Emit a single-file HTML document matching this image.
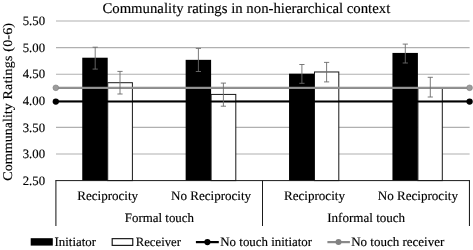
<!DOCTYPE html><html><head><meta charset="utf-8"><style>html,body{margin:0;padding:0;background:#fff}svg{display:block}text{font-family:"Liberation Serif",serif;fill:#000;stroke:#000;stroke-width:0.15px;text-rendering:geometricPrecision}</style></head><body><div style="will-change:transform;width:473px;height:250px;overflow:hidden;background:#fff">
<svg width="473" height="250" viewBox="0 0 473 250">
<rect width="473" height="250" fill="#fff"/>
<line x1="56.0" x2="469.6" y1="21.00" y2="21.00" stroke="#b0b0b0" stroke-width="1.15"/>
<line x1="56.0" x2="469.6" y1="47.60" y2="47.60" stroke="#b0b0b0" stroke-width="1.15"/>
<line x1="56.0" x2="469.6" y1="74.20" y2="74.20" stroke="#b0b0b0" stroke-width="1.15"/>
<line x1="56.0" x2="469.6" y1="100.80" y2="100.80" stroke="#b0b0b0" stroke-width="1.15"/>
<line x1="56.0" x2="469.6" y1="127.40" y2="127.40" stroke="#b0b0b0" stroke-width="1.15"/>
<line x1="56.0" x2="469.6" y1="154.00" y2="154.00" stroke="#b0b0b0" stroke-width="1.15"/>
<rect x="82.25" y="57.71" width="25.45" height="122.89" fill="#000"/>
<rect x="107.70" y="82.71" width="24.70" height="97.89" fill="#fff" stroke="#181818" stroke-width="1"/>
<rect x="185.65" y="59.84" width="25.45" height="120.76" fill="#000"/>
<rect x="211.10" y="94.42" width="24.70" height="86.18" fill="#fff" stroke="#181818" stroke-width="1"/>
<rect x="289.05" y="73.67" width="25.45" height="106.93" fill="#000"/>
<rect x="314.50" y="71.97" width="24.30" height="108.63" fill="#fff" stroke="#181818" stroke-width="1"/>
<rect x="392.45" y="52.92" width="25.45" height="127.68" fill="#000"/>
<rect x="417.90" y="87.50" width="24.40" height="93.10" fill="#fff" stroke="#181818" stroke-width="1"/>
<line x1="56.0" x2="469.6" y1="87.80" y2="87.80" stroke="#878787" stroke-width="2.15"/>
<line x1="56.0" x2="469.6" y1="87.80" y2="87.80" stroke="#9a9a9a" stroke-width="0.9"/>
<line x1="56.0" x2="469.6" y1="101.50" y2="101.50" stroke="#000" stroke-width="2.15"/>
<circle cx="55.8" cy="87.80" r="2.85" fill="#9c9c9c" stroke="#808080" stroke-width="0.6"/>
<circle cx="55.8" cy="101.60" r="3.15" fill="#000"/>
<circle cx="469.6" cy="87.80" r="2.85" fill="#9c9c9c" stroke="#808080" stroke-width="0.6"/>
<circle cx="469.6" cy="101.60" r="3.15" fill="#000"/>
<path d="M95.20 47.20V69.10M92.60 47.20h5.2M92.60 69.10h5.2" stroke="#6c6c6c" stroke-width="0.9" fill="none"/>
<path d="M120.00 71.40V94.00M117.40 71.40h5.2M117.40 94.00h5.2" stroke="#6c6c6c" stroke-width="0.9" fill="none"/>
<path d="M198.40 48.40V71.50M195.80 48.40h5.2M195.80 71.50h5.2" stroke="#6c6c6c" stroke-width="0.9" fill="none"/>
<path d="M223.40 83.10V106.20M220.80 83.10h5.2M220.80 106.20h5.2" stroke="#6c6c6c" stroke-width="0.9" fill="none"/>
<path d="M301.90 64.50V83.30M299.30 64.50h5.2M299.30 83.30h5.2" stroke="#6c6c6c" stroke-width="0.9" fill="none"/>
<path d="M326.60 62.40V81.90M324.00 62.40h5.2M324.00 81.90h5.2" stroke="#6c6c6c" stroke-width="0.9" fill="none"/>
<path d="M405.30 44.10V63.00M402.70 44.10h5.2M402.70 63.00h5.2" stroke="#6c6c6c" stroke-width="0.9" fill="none"/>
<path d="M430.30 77.30V97.00M427.70 77.30h5.2M427.70 97.00h5.2" stroke="#6c6c6c" stroke-width="0.9" fill="none"/>
<line x1="55.4" x2="470.0" y1="180.6" y2="180.6" stroke="#1a1a1a" stroke-width="1.0"/>
<line x1="55.90" x2="55.90" y1="180.6" y2="226.0" stroke="#1a1a1a" stroke-width="1.05"/>
<line x1="262.50" x2="262.50" y1="180.6" y2="226.0" stroke="#1a1a1a" stroke-width="1.05"/>
<line x1="469.45" x2="469.45" y1="180.6" y2="226.0" stroke="#1a1a1a" stroke-width="1.05"/>
<text x="45.0" y="25.10" font-size="12.75" text-anchor="end">5.50</text>
<text x="45.0" y="51.70" font-size="12.75" text-anchor="end">5.00</text>
<text x="45.0" y="78.30" font-size="12.75" text-anchor="end">4.50</text>
<text x="45.0" y="104.90" font-size="12.75" text-anchor="end">4.00</text>
<text x="45.0" y="131.50" font-size="12.75" text-anchor="end">3.50</text>
<text x="45.0" y="158.10" font-size="12.75" text-anchor="end">3.00</text>
<text x="45.0" y="184.70" font-size="12.75" text-anchor="end">2.50</text>
<text x="246.35" y="13.3" font-size="14.77" text-anchor="middle">Communality ratings in non-hierarchical context</text>
<text transform="translate(11.5,180.7) rotate(-90) scale(1,0.94)" font-size="14.1">Communality</text>
<text transform="translate(11.5,99.5) rotate(-90) scale(1,0.94)" font-size="14.1" letter-spacing="0.15">Ratings (0-6)</text>
<text x="107.70" y="199.5" font-size="13.05" text-anchor="middle">Reciprocity</text>
<text x="211.10" y="199.5" font-size="13.05" text-anchor="middle">No Reciprocity</text>
<text x="314.50" y="199.5" font-size="13.05" text-anchor="middle">Reciprocity</text>
<text x="417.90" y="199.5" font-size="13.05" text-anchor="middle">No Reciprocity</text>
<text x="159.40" y="222.2" font-size="12.9" text-anchor="middle">Formal touch</text>
<text x="366.20" y="222.2" font-size="13.05" text-anchor="middle">Informal touch</text>
<rect x="30.7" y="238.2" width="22.1" height="7.4" fill="#000"/>
<text x="54.6" y="246.1" font-size="12.85">Initiator</text>
<rect x="112.2" y="238.65" width="20.55" height="6.75" fill="#fff" stroke="#1c1c1c" stroke-width="1.2"/>
<text x="135.7" y="246.1" font-size="12.75">Receiver</text>
<line x1="195.9" x2="218.8" y1="242.1" y2="242.1" stroke="#000" stroke-width="2.25"/><circle cx="207.4" cy="242.1" r="3.1" fill="#000"/>
<text x="220.3" y="246.1" font-size="12.92">No touch initiator</text>
<line x1="327.4" x2="349.9" y1="242.1" y2="242.1" stroke="#8a8a8a" stroke-width="2.25"/><circle cx="338.5" cy="242.1" r="3.0" fill="#828282"/>
<text x="351.2" y="246.1" font-size="13.0">No touch receiver</text>
</svg></div></body></html>
